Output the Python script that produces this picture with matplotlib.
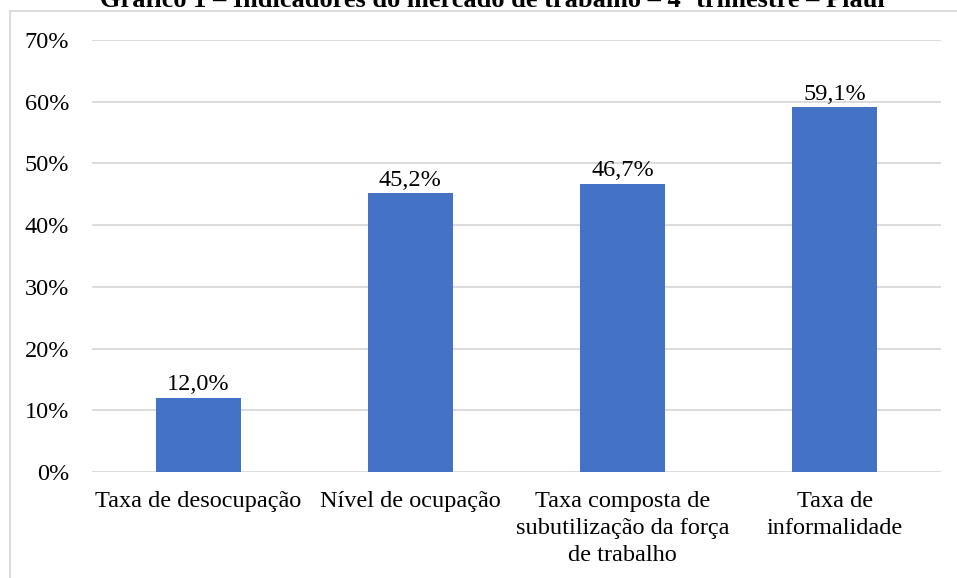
import numpy as np
import matplotlib.pyplot as plt
from matplotlib.lines import Line2D

plt.rcParams['font.family'] = ['Liberation Serif', 'DejaVu Serif']

# --- data ---
categorias = ['Taxa de desocupação', 'Nível de ocupação',
              'Taxa composta de\nsubutilização da força\nde trabalho',
              'Taxa de\ninformalidade']
valores = [12.0, 45.2, 46.7, 59.1]
rotulos = ['12,0%', '45,2%', '46,7%', '59,1%']
ticks_y = [0, 10, 20, 30, 40, 50, 60, 70]

W, H = 957, 578
fig = plt.figure(figsize=(W / 100, H / 100), dpi=100)
ax = fig.add_axes([92 / W, 1 - 472 / H, (941 - 92) / W, (472 - 40) / H])

fs = 17.5
cinza = '#d9d9d9'
x = np.arange(len(categorias))
ax.bar(x, valores, width=0.4, color='#4472c4', zorder=3)
for xi, v, r in zip(x, valores, rotulos):
    ax.text(xi, v + 0.4, r, ha='center', va='bottom', fontsize=fs, color='#000000')

ax.set_xlim(-0.5, len(categorias) - 0.5)
ax.set_ylim(0, 70)
ax.set_yticks(ticks_y)
ax.set_yticklabels([f'{t}%' for t in ticks_y], fontsize=fs)
ax.set_xticks(x)
ax.set_xticklabels(categorias, fontsize=fs, linespacing=1.35)
ax.tick_params(axis='both', length=0, colors='#000000')
ax.tick_params(axis='y', pad=16.5)
ax.tick_params(axis='x', pad=14)
ax.grid(axis='y', color=cinza, linewidth=1.3, zorder=0)
for s in ax.spines.values():
    s.set_visible(False)

# moldura da área do gráfico
fig.add_artist(Line2D([9.5 / W, 9.5 / W], [0, 1 - 11 / H], transform=fig.transFigure,
                      color=cinza, linewidth=1.3))
fig.add_artist(Line2D([9.5 / W, 1], [1 - 11 / H, 1 - 11 / H], transform=fig.transFigure,
                      color=cinza, linewidth=1.3))

fig.text(492 / W, 1 - 7 / H,
         'Gráfico 1 – Indicadores do mercado de trabalho – 4º trimestre – Piauí',
         ha='center', va='baseline', fontsize=19, fontweight='bold')

fig.savefig('out.png', dpi=100)
